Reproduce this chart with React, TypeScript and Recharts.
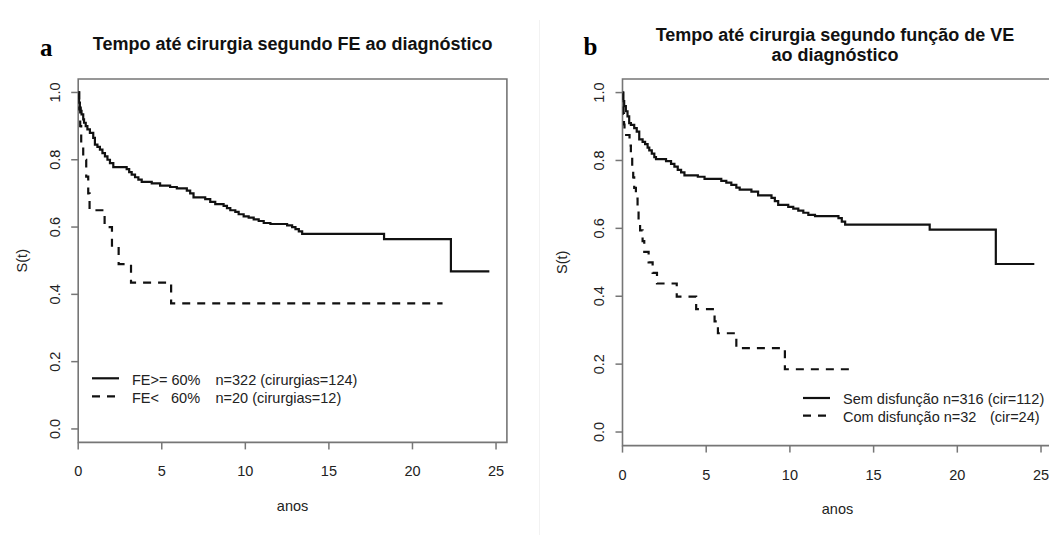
import { LineChart, Line, XAxis, YAxis, ReferenceArea } from "recharts";

// eixos
const anosTicks = [0, 5, 10, 15, 20, 25];
const sTicks = [0, 0.2, 0.4, 0.6, 0.8, 1.0];

// painel a: FE >= 60%
const tempoFEnormal = [0, 0.05, 0.1, 0.15, 0.2, 0.3, 0.35, 0.45, 0.55, 0.7, 0.9, 1.0, 1.15, 1.3, 1.45, 1.6, 1.75, 1.9, 2.1, 2.9, 3.05, 3.2, 3.4, 3.6, 3.8, 4.4, 4.9, 5.5, 5.9, 6.5, 6.7, 6.9, 7.6, 7.9, 8.2, 8.7, 8.9, 9.1, 9.4, 9.6, 9.9, 10.2, 10.5, 10.8, 11.1, 11.5, 12.5, 12.8, 13.0, 13.2, 13.4, 18.3, 22.3, 24.6];
const survFEnormal = [1.0, 0.97, 0.955, 0.945, 0.935, 0.92, 0.91, 0.9, 0.89, 0.88, 0.865, 0.845, 0.838, 0.83, 0.82, 0.81, 0.8, 0.79, 0.778, 0.772, 0.763, 0.756, 0.748, 0.741, 0.734, 0.73, 0.723, 0.719, 0.715, 0.708, 0.7, 0.688, 0.683, 0.675, 0.668, 0.663, 0.656, 0.65, 0.645, 0.638, 0.632, 0.628, 0.623, 0.618, 0.612, 0.609, 0.605, 0.6, 0.594, 0.587, 0.58, 0.564, 0.468, 0.468];

// painel a: FE < 60%
const tempoFEbaixa = [0, 0.06, 0.12, 0.18, 0.3, 0.48, 0.6, 0.68, 1.58, 2.02, 2.42, 3.16, 5.56, 21.8];
const survFEbaixa = [1.0, 0.95, 0.9, 0.85, 0.8, 0.75, 0.7, 0.65, 0.6, 0.545, 0.49, 0.435, 0.373, 0.373];

// painel b: sem disfunção
const tempoSemDisf = [0, 0.05, 0.1, 0.2, 0.3, 0.4, 0.5, 0.7, 0.85, 1.0, 1.2, 1.35, 1.5, 1.6, 1.75, 1.9, 2.0, 2.6, 2.9, 3.1, 3.3, 3.5, 3.7, 4.5, 4.9, 5.9, 6.2, 6.5, 6.8, 7.0, 7.7, 8.1, 8.9, 9.1, 9.3, 9.9, 10.2, 10.5, 10.8, 11.1, 11.5, 12.9, 13.1, 13.3, 18.35, 22.3, 24.6];
const survSemDisf = [1.0, 0.975, 0.96, 0.945, 0.93, 0.91, 0.905, 0.895, 0.885, 0.862, 0.855, 0.848, 0.838, 0.83, 0.82, 0.81, 0.804, 0.798, 0.79, 0.782, 0.772, 0.765, 0.756, 0.752, 0.746, 0.74, 0.735, 0.728, 0.72, 0.714, 0.708, 0.697, 0.69, 0.68, 0.669, 0.663, 0.658, 0.652, 0.646, 0.64, 0.636, 0.63, 0.62, 0.611, 0.596, 0.495, 0.495];

// painel b: com disfunção
const tempoComDisf = [0, 0.03, 0.06, 0.09, 0.12, 0.42, 0.5, 0.58, 0.64, 0.7, 0.8, 0.9, 0.96, 1.05, 1.2, 1.3, 1.56, 1.8, 2.06, 3.24, 4.4, 5.5, 5.7, 6.8, 9.7, 13.8];
const survComDisf = [1.0, 0.969, 0.938, 0.906, 0.875, 0.844, 0.8125, 0.781, 0.75, 0.719, 0.6875, 0.656, 0.625, 0.594, 0.5625, 0.531, 0.5, 0.469, 0.4375, 0.399, 0.362, 0.326, 0.291, 0.247, 0.185, 0.185];

const tituloA = ["Tempo até cirurgia segundo FE ao diagnóstico"];
const tituloB = ["Tempo até cirurgia segundo função de VE", "ao diagnóstico"];
const legendaA = [
  [{ x: 132, t: "FE>= 60%" }, { x: 215.5, t: "n=322 (cirurgias=124)" }],
  [{ x: 132, t: "FE<" }, { x: 171, t: "60%" }, { x: 215.5, t: "n=20 (cirurgias=12)" }],
];
const legendaB = [
  [{ x: 319, t: "Sem disfunção n=316 (cir=112)" }],
  [{ x: 319, t: "Com disfunção n=32" }, { x: 466, t: "(cir=24)" }],
];

const serie = (t: number[], s: number[]) => t.map((v, i) => ({ t: v, s: s[i] }));

const TXT = "#222";
const CAIXA = "#767676";
const TRACO = "8 7";

const XTick = (props: any) => {
  const { x, y, payload } = props;
  return (
    <text x={x} y={y + 25} textAnchor="middle" fontSize={14.5} fill={TXT}>
      {payload.value}
    </text>
  );
};

const YTick = (props: any) => {
  const { x, y, payload } = props;
  const bx = x - 9;
  return (
    <text x={bx} y={y} transform={`rotate(-90 ${bx} ${y})`} textAnchor="middle" fontSize={14.5} fill={TXT}>
      {Number(payload.value).toFixed(1)}
    </text>
  );
};

type Painel = {
  left: number;
  width: number;
  plot: { l: number; t: number; r: number; b: number };
  letra: string;
  letraPos: [number, number];
  titulo: string[];
  tituloX: number;
  tituloY: number[];
  stPos: [number, number];
  anosPos: [number, number];
  solida: { t: number; s: number }[];
  tracejada: { t: number; s: number }[];
  legenda: { x: number; t: string }[][];
  legX: [number, number];
  legY: number[];
};

function Grafico(p: Painel) {
  const H = 535;
  return (
    <div style={{ position: "absolute", left: p.left, top: 0, width: p.width, height: H }}>
      <LineChart
        width={p.width}
        height={H}
        margin={{ left: p.plot.l - 60, right: p.width - p.plot.r, top: p.plot.t, bottom: H - p.plot.b - 30 }}
      >
        <XAxis
          dataKey="t"
          type="number"
          domain={[0, 25.65]}
          ticks={anosTicks}
          allowDataOverflow
          axisLine={false}
          tickSize={7}
          tickLine={{ stroke: CAIXA, strokeWidth: 1.5 }}
          tick={<XTick />}
          height={30}
        />
        <YAxis
          type="number"
          domain={[-0.04, 1.04]}
          ticks={sTicks}
          allowDataOverflow
          axisLine={false}
          tickSize={7}
          tickLine={{ stroke: CAIXA, strokeWidth: 1.5 }}
          tick={<YTick />}
          width={60}
        />
        <ReferenceArea x1={0} x2={25.65} y1={-0.04} y2={1.04} fill="none" stroke={CAIXA} strokeWidth={1.6} />
        <Line
          data={p.solida}
          dataKey="s"
          type="stepAfter"
          stroke="#111"
          strokeWidth={2.2}
          dot={false}
          activeDot={false}
          isAnimationActive={false}
        />
        <Line
          data={p.tracejada}
          dataKey="s"
          type="stepAfter"
          stroke="#111"
          strokeWidth={2.2}
          strokeDasharray={TRACO}
          dot={false}
          activeDot={false}
          isAnimationActive={false}
        />
      </LineChart>
      <svg
        width={p.width}
        height={H}
        style={{ position: "absolute", left: 0, top: 0, pointerEvents: "none" }}
      >
        <text x={p.letraPos[0]} y={p.letraPos[1]} fontFamily='"Liberation Serif", "Times New Roman", serif' fontWeight="bold" fontSize={25} fill="#000">
          {p.letra}
        </text>
        {p.titulo.map((linha, i) => (
          <text key={i} x={p.tituloX} y={p.tituloY[i]} textAnchor="middle" fontWeight="bold" fontSize={18} fill="#111">
            {linha}
          </text>
        ))}
        <text
          x={p.stPos[0]}
          y={p.stPos[1]}
          transform={`rotate(-90 ${p.stPos[0]} ${p.stPos[1]})`}
          textAnchor="middle"
          fontSize={14.5}
          fill={TXT}
        >
          S(t)
        </text>
        <text x={p.anosPos[0]} y={p.anosPos[1]} textAnchor="middle" fontSize={14.5} fill={TXT}>
          anos
        </text>
        {p.legenda.map((linha, i) => (
          <g key={i}>
            <line
              x1={p.legX[0]}
              x2={p.legX[1]}
              y1={p.legY[i]}
              y2={p.legY[i]}
              stroke="#111"
              strokeWidth={2.2}
              strokeDasharray={i === 1 ? TRACO : undefined}
            />
            {linha.map((seg, j) => (
              <text key={j} x={seg.x} y={p.legY[i] + 6.3} fontSize={14.5} fill={TXT}>
                {seg.t}
              </text>
            ))}
          </g>
        ))}
      </svg>
    </div>
  );
}

export default function App() {
  return (
    <div
      style={{
        position: "absolute",
        left: 0,
        top: 0,
        width: 1049,
        height: 535,
        overflow: "hidden",
        background: "#fff",
        fontFamily: '"Liberation Sans", Arial, sans-serif',
      }}
    >
      <Grafico
        left={0}
        width={524}
        plot={{ l: 78.2, t: 79, r: 506.9, b: 442.4 }}
        letra="a"
        letraPos={[40, 56.1]}
        titulo={tituloA}
        tituloX={292.6}
        tituloY={[49.8]}
        stPos={[27, 260.7]}
        anosPos={[292.6, 510.6]}
        solida={serie(tempoFEnormal, survFEnormal)}
        tracejada={serie(tempoFEbaixa, survFEbaixa)}
        legenda={legendaA}
        legX={[92, 119]}
        legY={[378.3, 396.4]}
      />
      <div style={{ position: "absolute", left: 539, top: 20, width: 1, height: 515, background: "#f2f2f2" }} />
      <Grafico
        left={524}
        width={530}
        plot={{ l: 98.5, t: 79, r: 527.9, b: 445.6 }}
        letra="b"
        letraPos={[59.5, 55.2]}
        titulo={tituloB}
        tituloX={311}
        tituloY={[40.6, 60.9]}
        stPos={[43.5, 262.3]}
        anosPos={[313.5, 514]}
        solida={serie(tempoSemDisf, survSemDisf)}
        tracejada={serie(tempoComDisf, survComDisf)}
        legenda={legendaB}
        legX={[279, 306]}
        legY={[398, 415.6]}
      />
    </div>
  );
}
